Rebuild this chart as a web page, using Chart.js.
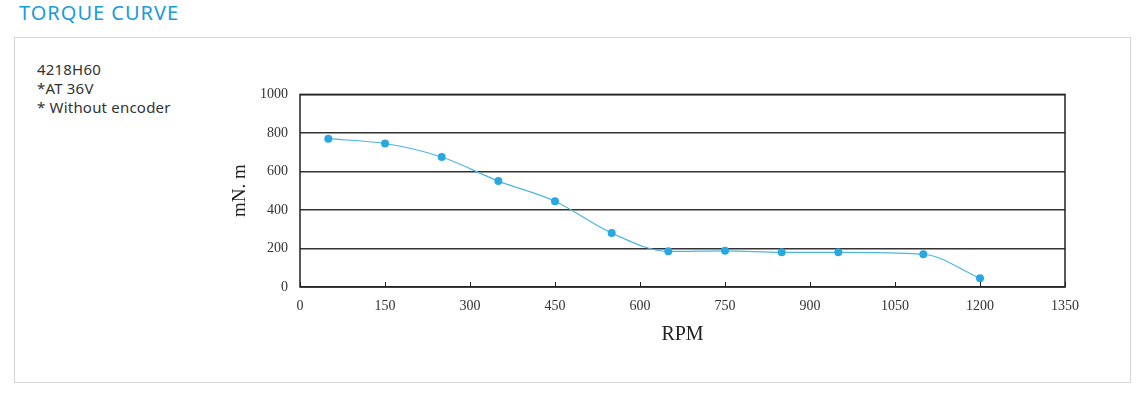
<!DOCTYPE html>
<html>
<head>
<meta charset="utf-8">
<script src="https://cdn.jsdelivr.net/npm/chart.js@4/dist/chart.umd.min.js"></script>
<style>
    body { margin: 0; background: #fff; width: 1141px; height: 395px; position: relative; font-family: "Noto Sans", Arial, sans-serif; }
    #title { position: absolute; left: 19px; top: -1px; font-size: 20px; color: #1b9bd7; letter-spacing: 1px; }
    #box { position: absolute; left: 14px; top: 37px; width: 1117px; height: 346px; border: 1px solid #d6d6d6; box-sizing: border-box; }
    #notes { position: absolute; left: 37px; top: 60px; font-size: 15px; line-height: 19px; color: #333; letter-spacing: 0.2px; }
    #wrap { position: absolute; left: 225px; top: 74px; width: 865px; height: 281px; }
</style>
</head>
<body>
<div id="title">TORQUE CURVE</div>
<div id="box"></div>
<div id="notes">4218H60<br>*AT 36V<br>* Without encoder</div>
<div id="wrap"><canvas id="torqueChart"></canvas></div>
<script>
    // data
    const rpm = [50, 150, 250, 350, 450, 550, 650, 750, 850, 950, 1100, 1200];
    const torque = [770, 745, 675, 550, 445, 280, 185, 188, 180, 180, 170, 45];
    const xTicks = [0, 150, 300, 450, 600, 750, 900, 1050, 1200, 1350];
    const yTicks = [0, 200, 400, 600, 800, 1000];

    const serif = '"Liberation Serif", "DejaVu Serif", serif';

    // plot frame + inside tick marks on the x axis
    const framePlugin = {
        id: 'frame',
        afterDraw(chart) {
            const ctx = chart.ctx;
            const a = chart.chartArea;
            const xs = chart.scales.x;
            ctx.save();
            ctx.strokeStyle = '#222';
            ctx.lineWidth = 1.5;
            ctx.strokeRect(a.left, a.top, a.right - a.left, a.bottom - a.top);
            ctx.lineWidth = 1;
            xTicks.forEach(v => {
                const px = Math.round(xs.getPixelForValue(v)) + 0.5;
                ctx.beginPath();
                ctx.moveTo(px, a.bottom);
                ctx.lineTo(px, a.bottom - 5);
                ctx.stroke();
            });
            ctx.restore();
        }
    };

    let ctx = document.getElementById('torqueChart').getContext('2d');
    let chart = new Chart(ctx, {
        type: 'line',
        data: {
            datasets: [{
                data: rpm.map((r, i) => ({ x: r, y: torque[i] })),
                borderColor: '#4bb6e6',
                backgroundColor: '#29a8e0',
                borderWidth: 1.2,
                pointRadius: 4,
                pointBorderWidth: 0,
                cubicInterpolationMode: 'monotone',
                fill: false
            }]
        },
        options: {
            responsive: true,
            maintainAspectRatio: false,
            animation: false,
            layout: { padding: { top: 0, right: 0, left: 0, bottom: 0 } },
            plugins: {
                legend: { display: false },
                tooltip: { enabled: false }
            },
            scales: {
                x: {
                    type: 'linear',
                    min: 0,
                    max: 1350,
                    afterBuildTicks: axis => { axis.ticks = xTicks.map(v => ({ value: v })); },
                    grid: { display: false, drawTicks: false },
                    border: { display: false },
                    ticks: { color: '#333', padding: 11, font: { family: serif, size: 14 }, maxRotation: 0, callback: v => String(v) },
                    title: { display: true, text: 'RPM', color: '#222', font: { family: serif, size: 20 }, padding: { top: 0, bottom: 8 } },
                    afterFit: axis => { axis.height = 68; }
                },
                y: {
                    min: 0,
                    max: 1000,
                    afterBuildTicks: axis => { axis.ticks = yTicks.map(v => ({ value: v })); },
                    grid: { color: '#333', lineWidth: 1.5, drawTicks: false },
                    border: { display: false },
                    ticks: { color: '#333', padding: 12, font: { family: serif, size: 14 }, callback: v => String(v) },
                    title: { display: true, text: 'mN. m', color: '#222', font: { family: serif, size: 19 }, padding: { bottom: 4 } },
                    afterFit: axis => { axis.width = 75; }
                }
            }
        },
        plugins: [framePlugin]
    });
</script>
</body>
</html>
